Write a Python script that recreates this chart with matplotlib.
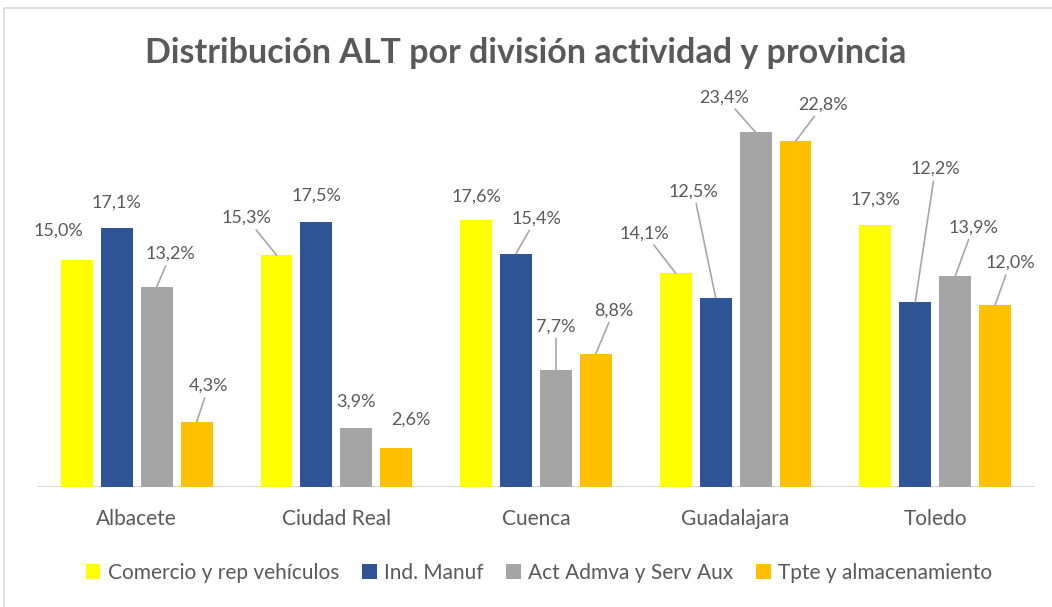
"""Distribución ALT por división actividad y provincia (bar chart, Excel style)."""

import matplotlib

matplotlib.use("Agg")
import matplotlib.pyplot as plt
import numpy as np
from matplotlib.patches import Rectangle

provincias = ["Albacete", "Ciudad Real", "Cuenca", "Guadalajara", "Toledo"]
series = [
    "Comercio y rep vehículos",
    "Ind. Manuf",
    "Act Admva y Serv Aux",
    "Tpte y almacenamiento",
]
comercio = [15.0, 15.3, 17.6, 14.1, 17.3]
manuf = [17.1, 17.5, 15.4, 12.5, 12.2]
admva = [13.2, 3.9, 7.7, 23.4, 13.9]
tpte = [4.3, 2.6, 8.8, 22.8, 12.0]

COLORS = ["#FFFF00", "#2F5597", "#A5A5A5", "#FFC000"]
TEXT = "#595959"
FONT = "Lato"

# label offsets (pixels, dx / dy up from bar top), mimicking Excel's manual placement
LABEL_OFFSETS = [
    [(-19, 29), (-30, 37), (0, 24), (-31, 40), (0, 25)],
    [(0, 25), (0, 26), (20, 35), (-22, 106), (20, 133)],
    [(14, 33), (0, 26), (0, 44), (-31, 35), (18, 49)],
    [(12, 36), (15, 28), (18, 43), (28, 37), (15, 42)],
]

W, H = 1052, 607
fig = plt.figure(figsize=(W / 100, H / 100), dpi=100)
fig.patches.append(
    Rectangle((4 / W, -0.01), 1.02, 1 - 8 / H + 0.01, transform=fig.transFigure,
              fill=False, edgecolor="#D9D9D9", linewidth=1.2)
)
ax = fig.add_axes([37 / W, (H - 487) / H, 998 / W, 379 / H])

x = np.arange(len(provincias))
width = 0.16
values = [comercio, manuf, admva, tpte]
for i, (name, vals) in enumerate(zip(series, values)):
    pos = x + (i - 1.5) * 0.2
    ax.bar(pos, vals, width, color=COLORS[i], label=name, zorder=2)
    for j, (px, v) in enumerate(zip(pos, vals)):
        dx, dy = LABEL_OFFSETS[i][j]
        arrow = dict(arrowstyle="-", color="#A6A6A6", lw=1.2, shrinkA=1, shrinkB=0) if dy > 30 else None
        ax.annotate(
            f"{v:.1f}%".replace(".", ","),
            xy=(px, v), xytext=(dx * 0.72, dy * 0.72), textcoords="offset points",
            ha="center", va="center", fontsize=13, color=TEXT, family=FONT,
            arrowprops=arrow, zorder=3,
        )

ax.set_xlim(-0.5, 4.5)
ax.set_ylim(0, 25)
ax.axhline(0, color="#D9D9D9", lw=1.5, zorder=1)
for s in ax.spines.values():
    s.set_visible(False)
ax.set_yticks([])
ax.set_xticks(x, provincias)
ax.tick_params(axis="x", length=0, pad=16, labelsize=15, labelcolor=TEXT)
for t in ax.get_xticklabels():
    t.set_family(FONT)

fig.text(0.5, 1 - 53 / H, "Distribución ALT por división actividad y provincia",
         ha="center", va="center", fontsize=24.5, fontweight="bold", color=TEXT, family=FONT)

leg = fig.legend(
    loc="center", bbox_to_anchor=(539 / W, (H - 573) / H), ncol=4, frameon=False,
    handlelength=0.7, handleheight=0.7, handletextpad=0.35, columnspacing=1.1,
    prop={"family": FONT, "size": 15},
)
for t in leg.get_texts():
    t.set_color(TEXT)

fig.savefig("out.png", dpi=100)
